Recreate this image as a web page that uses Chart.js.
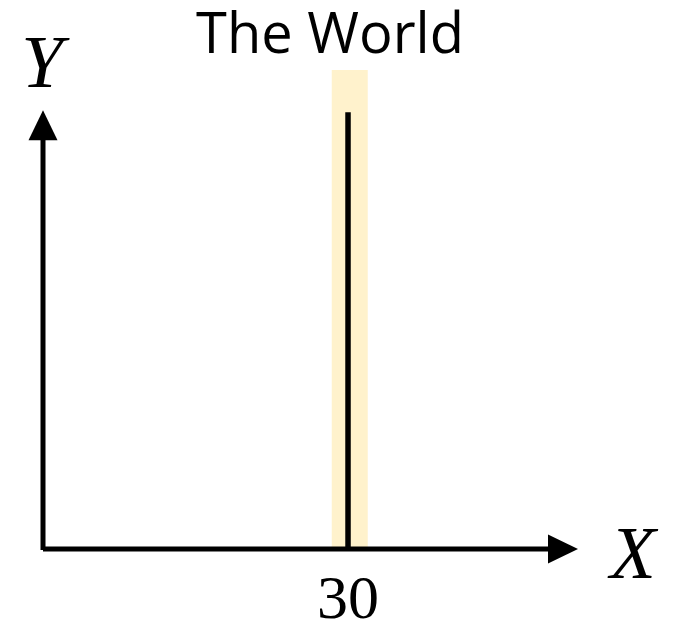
<!DOCTYPE html>
<html>
<head>
<meta charset="utf-8">
<title>The World</title>
<script src="https://cdn.jsdelivr.net/npm/chart.js@4"></script>
<style>
  html, body { margin: 0; padding: 0; background: #ffffff; }
  #wrap { width: 674px; height: 623px; }
</style>
</head>
<body>
<div id="wrap"><canvas id="c" width="674" height="623"></canvas></div>
<script>
// Chart content
const chartTitle = 'The World';
const xAxisLabel = 'X';
const yAxisLabel = 'Y';
const xTickValues = [30];
const xTickLabels = ['30'];

// Vertical line at x = 30 and its highlight band
const lineX = [30, 30];
const lineY = [0, 91.2];
const bandX = [30.17, 30.17];
const bandY = [0, 100];

// Axis extents (arrow tips)
const xRange = [0, 52.62];
const yRange = [0, 100];
const xAxisEnd = 52.62;
const yAxisEnd = 91.6;

const toPoints = (xs, ys) => xs.map((x, i) => ({ x: x, y: ys[i] }));

// Draws the arrowed axes and all text
const axesAndText = {
  id: 'axesAndText',
  afterDatasetsDraw(chart) {
    const ctx = chart.ctx;
    const xs = chart.scales.x, ys = chart.scales.y;
    const x0 = xs.getPixelForValue(0), y0 = ys.getPixelForValue(0);
    const xEnd = xs.getPixelForValue(xAxisEnd);
    const yEnd = ys.getPixelForValue(yAxisEnd);
    const head = 30, half = 14.5;
    ctx.save();
    ctx.strokeStyle = '#000';
    ctx.fillStyle = '#000';
    ctx.lineWidth = 5;
    ctx.lineCap = 'butt';
    // x axis
    ctx.beginPath();
    ctx.moveTo(x0, y0);
    ctx.lineTo(xEnd - head + 2, y0);
    ctx.stroke();
    ctx.beginPath();
    ctx.moveTo(xEnd, y0);
    ctx.lineTo(xEnd - head, y0 - half);
    ctx.lineTo(xEnd - head, y0 + half);
    ctx.closePath();
    ctx.fill();
    // y axis
    ctx.beginPath();
    ctx.moveTo(x0, y0 + 1);
    ctx.lineTo(x0, yEnd + head - 2);
    ctx.stroke();
    ctx.beginPath();
    ctx.moveTo(x0, yEnd);
    ctx.lineTo(x0 - half, yEnd + head);
    ctx.lineTo(x0 + half, yEnd + head);
    ctx.closePath();
    ctx.fill();

    // title
    ctx.textAlign = 'center';
    ctx.textBaseline = 'alphabetic';
    ctx.font = '56px "Open Sans"';
    ctx.fillText(chartTitle, 330, 53);

    // axis letters
    ctx.font = 'italic 75px "Liberation Serif"';
    ctx.fillText(xAxisLabel, xEnd + 55, y0 + 29);
    ctx.fillText(yAxisLabel, x0 - 1, yEnd - 23);

    // tick labels
    ctx.font = '62px "Liberation Serif"';
    xTickValues.forEach((v, i) => {
      ctx.fillText(xTickLabels[i], xs.getPixelForValue(v), y0 + 69);
    });
    ctx.restore();
  }
};

new Chart(document.getElementById('c'), {
  type: 'scatter',
  data: {
    datasets: [
      {
        label: 'band',
        data: toPoints(bandX, bandY),
        showLine: true,
        borderColor: '#FFF2CC',
        borderWidth: 36,
        pointRadius: 0,
        clip: false,
        order: 2
      },
      {
        label: 'line',
        data: toPoints(lineX, lineY),
        showLine: true,
        borderColor: '#000000',
        borderWidth: 5.5,
        pointRadius: 0,
        clip: false,
        order: 1
      }
    ]
  },
  options: {
    responsive: false,
    animation: false,
    events: [],
    layout: { padding: { left: 43, right: 96, top: 70, bottom: 74 } },
    plugins: { legend: { display: false }, title: { display: false }, tooltip: { enabled: false } },
    scales: {
      x: { type: 'linear', min: xRange[0], max: xRange[1], display: false },
      y: { type: 'linear', min: yRange[0], max: yRange[1], display: false }
    }
  },
  plugins: [axesAndText]
});
</script>
</body>
</html>
